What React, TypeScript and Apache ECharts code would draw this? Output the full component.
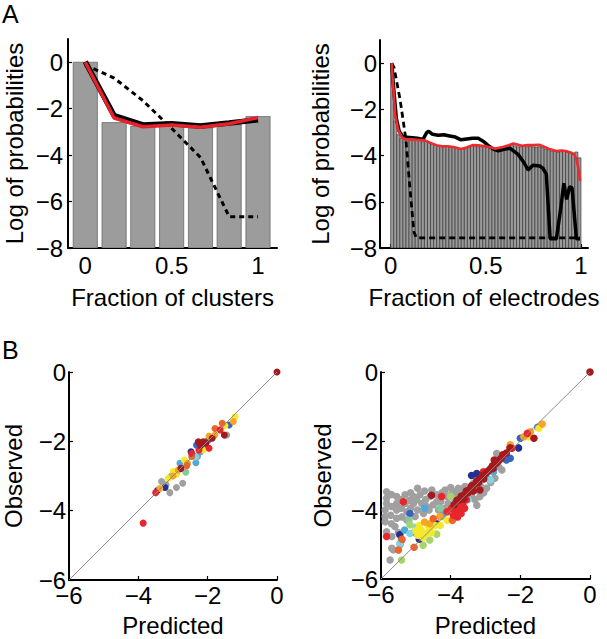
import React, { useEffect, useRef } from "react";
import * as echarts from "echarts";

// ---------- Panel A (left): fraction of clusters ----------
const clusterX = [0, 0.167, 0.333, 0.5, 0.667, 0.833, 1];
const clusterBars = [0, -2.6, -2.76, -2.74, -2.83, -2.69, -2.34];
const clusterBlack = [0.02, -2.3, -2.7, -2.65, -2.75, -2.62, -2.48];
const clusterRed = [0, -2.4, -2.78, -2.7, -2.8, -2.65, -2.38];
const clusterDashed = [-0.12, -0.68, -1.65, -2.85, -4.1, -6.65, -6.65];

// ---------- Panel A (right): fraction of electrodes ----------
const electrodeBars = [
  -0.05, -2.5, -3.1, -3.25, -3.3, -3.3, -3.32, -3.3, -3.35, -3.35,
  -3.4, -3.38, -3.45, -3.5, -3.55, -3.58, -3.6, -3.62, -3.6, -3.63,
  -3.65, -3.68, -3.72, -3.7, -3.65, -3.6, -3.58, -3.6, -3.62, -3.6,
  -3.62, -3.65, -3.68, -3.7, -3.72, -3.7, -3.66, -3.62, -3.58, -3.55,
  -3.58, -3.62, -3.62, -3.6, -3.62, -3.6, -3.62, -3.63, -3.62, -3.66,
  -3.72, -3.75, -3.8, -3.82, -3.85, -3.83, -3.82, -3.85, -3.88, -3.9,
  -3.85, -4.1,
];
const redX = [0.005, 0.015, 0.025, 0.04, 0.06, 0.08, 0.11, 0.14, 0.18, 0.21, 0.24, 0.27, 0.3, 0.33, 0.37, 0.4, 0.43, 0.46, 0.5, 0.55, 0.59, 0.62, 0.645, 0.69, 0.72, 0.75, 0.78, 0.8, 0.83, 0.87, 0.9, 0.92, 0.95, 0.965, 0.978, 0.99, 0.995];
const redY = [0, -1.2, -2.3, -2.9, -3.22, -3.3, -3.3, -3.32, -3.35, -3.45, -3.55, -3.6, -3.6, -3.63, -3.72, -3.65, -3.55, -3.56, -3.6, -3.7, -3.63, -3.55, -3.48, -3.58, -3.55, -3.55, -3.53, -3.6, -3.7, -3.8, -3.78, -3.8, -3.88, -3.95, -4.2, -4.7, -5.1];
const blackX = [0.005, 0.02, 0.03, 0.045, 0.065, 0.1, 0.14, 0.17, 0.19, 0.2, 0.22, 0.25, 0.28, 0.31, 0.34, 0.37, 0.4, 0.43, 0.46, 0.49, 0.51, 0.54, 0.565, 0.6, 0.626, 0.67, 0.7, 0.722, 0.748, 0.783, 0.8, 0.818, 0.838, 0.871, 0.895, 0.91, 0.925, 0.94, 0.953, 0.976, 0.995];
const blackY = [0, -1.5, -2.4, -2.95, -3.2, -3.22, -3.25, -3.3, -3.0, -2.95, -3.08, -3.12, -3.1, -3.15, -3.2, -3.32, -3.28, -3.25, -3.25, -3.4, -3.55, -3.72, -3.8, -3.72, -3.68, -3.95, -4.3, -4.62, -4.42, -4.45, -4.55, -4.8, -7.6, -7.6, -6.2, -5.2, -5.9, -5.35, -5.4, -7.6, -7.6];
const dashX = [0.005, 0.018, 0.05, 0.08, 0.1, 0.122, 0.135, 0.995];
const dashY = [0, -0.2, -1.6, -3.3, -5.3, -7.3, -7.56, -7.56];

// ---------- Panel B (left): predicted vs observed ----------
const leftDarkRed = [[0, 0], [-2.77, -2.78], [-2.27, -2.01], [-2.13, -2.01], [-2.05, -2.05], [-1.87, -1.91], [-1.52, -1.82], [-2.2, -2.12]];
const leftRed = [[-3.86, -4.36], [-3.5, -3.48], [-2.46, -2.35], [-1.96, -2.2], [-1.64, -1.67], [-2.25, -2.25]];
const leftDarkOrange = [[-2.46, -2.44], [-1.79, -1.63], [-1.58, -1.48], [-2.6, -2.7]];
const leftOrange = [[-3.38, -3.36], [-2.85, -2.83], [-2.58, -2.63], [-1.96, -1.85], [-1.79, -1.82], [-1.26, -1.43], [-3.0, -3.0]];
const leftYellow = [[-3.14, -3.07], [-2.99, -2.87], [-2.67, -2.54], [-2.13, -2.25], [-1.21, -1.29], [-1.5, -1.55], [-2.9, -2.95]];
const leftGreen = [[-2.63, -2.89], [-3.05, -3.0]];
const leftCyan = [[-2.35, -2.45]];
const leftLightBlue = [[-2.8, -2.63], [-2.34, -2.62], [-2.2, -2.3]];
const leftBlue = [[-2.32, -2.11], [-1.98, -1.96], [-1.38, -1.53], [-2.1, -2.1]];
const leftDarkBlue = [[-3.23, -3.33], [-3.45, -3.42], [-2.48, -2.3]];
const leftGray = [[-3.33, -3.16], [-3.09, -3.48], [-2.9, -3.33], [-2.72, -3.21], [-2.29, -2.44], [-1.45, -1.82], [-3.2, -3.25]];

// ---------- Panel B (right) ----------
const rightGray = [
  [-5.84, -3.47], [-5.84, -3.66], [-5.84, -3.81], [-5.88, -4.0], [-5.88, -4.19], [-5.88, -4.34], [-5.84, -4.63], [-5.69, -4.77], [-5.69, -5.11], [-5.74, -5.45],
  [-5.55, -3.61], [-5.55, -3.81], [-5.55, -4.0], [-5.55, -4.24], [-5.6, -4.48],
  [-5.31, -3.56], [-5.31, -3.81], [-5.26, -4.05], [-5.26, -4.29],
  [-5.07, -3.61], [-5.07, -3.81], [-5.02, -4.19], [-4.95, -3.37],
  [-4.88, -3.56], [-4.83, -3.81], [-4.78, -4.1], [-4.69, -3.9],
  [-4.59, -3.61], [-4.54, -3.42], [-4.4, -3.56], [-4.4, -3.76], [-4.35, -4.0], [-4.26, -4.19],
  [-4.16, -3.42], [-4.11, -3.61], [-4.07, -3.81], [-3.97, -3.95],
  [-3.92, -3.47], [-3.88, -3.71], [-3.78, -3.37], [-3.73, -3.56],
  [-3.59, -3.32], [-3.49, -3.47], [-3.35, -3.23], [-3.25, -3.42],
  [-5.45, -5.0], [-5.65, -5.15],
  [-3.25, -3.86], [-3.16, -3.61], [-2.97, -3.37], [-2.73, -3.08], [-2.53, -2.84], [-2.58, -2.45], [-2.68, -2.36], [-3.35, -3.32], [-3.3, -3.7], [-2.85, -3.2], [-3.05, -3.5],
  [-5.7, -3.55], [-5.7, -3.9], [-5.72, -4.15], [-5.7, -4.4], [-5.42, -3.7], [-5.42, -3.95], [-5.4, -4.2], [-5.15, -3.5], [-5.18, -3.72], [-5.15, -3.95],
  [-4.98, -3.7], [-4.95, -4.0], [-4.75, -3.45], [-4.72, -3.7], [-4.62, -4.0], [-4.5, -3.85], [-4.25, -3.5], [-4.28, -3.75], [-4.18, -3.95], [-4.0, -3.35],
  [-3.98, -3.55], [-3.85, -3.55], [-3.65, -3.4], [-3.55, -3.55], [-3.4, -3.6], [-3.15, -3.3], [-2.92, -3.1], [-2.78, -2.9], [-2.62, -2.75], [-5.5, -4.65],
];
const rightDarkRed = [
  [0, 0], [-3.9, -3.85], [-3.75, -3.7], [-3.6, -3.55], [-3.45, -3.4], [-3.3, -3.25], [-3.15, -3.1], [-3.0, -2.95], [-2.85, -2.8], [-2.7, -2.65], [-2.55, -2.5], [-2.4, -2.35],
  [-3.5, -3.5], [-3.2, -3.2], [-2.95, -2.9], [-2.6, -2.55], [-4.55, -3.57], [-1.61, -1.92], [-3.7, -3.6], [-3.4, -3.3], [-2.75, -2.55], [-3.16, -3.42], [-2.3, -2.2],
  [-3.82, -3.72], [-3.68, -3.62], [-3.55, -3.45], [-3.38, -3.38], [-3.25, -3.15], [-3.1, -3.0], [-2.9, -2.85], [-2.8, -2.72], [-2.65, -2.6], [-2.5, -2.4], [-3.62, -3.68], [-3.35, -3.45], [-3.05, -3.1], [-2.78, -2.8],
];
const rightRed = [[-4.26, -3.61], [-5.36, -3.76], [-5.84, -4.77], [-3.97, -3.95], [-3.85, -4.05], [-3.92, -4.15], [-3.75, -4.0], [-3.7, -4.1], [-3.8, -4.2], [-3.65, -3.85], [-3.6, -3.95], [-3.06, -2.89], [-1.8, -1.78], [-2.24, -2.21], [-4.1, -4.05], [-3.55, -3.7], [-3.88, -3.92], [-3.72, -3.85]];
const rightDarkOrange = [[-5.5, -5.16], [-5.05, -5.08], [-5.4, -4.85], [-3.95, -4.3], [-2.5, -2.4], [-4.5, -4.25]];
const rightOrange = [[-4.31, -4.19], [-1.37, -1.51], [-1.71, -1.73], [-1.9, -1.88], [-2.29, -2.11], [-4.6, -4.4], [-4.75, -4.35], [-3.3, -3.35]];
const rightYellow = [[-4.85, -4.58], [-4.7, -4.68], [-4.6, -4.53], [-4.94, -4.73], [-4.8, -4.8], [-4.55, -4.65], [-5.0, -4.6], [-4.45, -4.45], [-4.65, -4.45], [-4.9, -4.45], [-1.47, -1.63], [-1.76, -1.88], [-4.1, -4.3], [-4.3, -4.45]];
const rightLightGreen = [[-5.17, -4.43], [-4.6, -4.87], [-4.79, -5.02], [-5.41, -5.45], [-4.0, -3.6], [-4.4, -4.7]];
const rightGreen = [[-4.3, -3.95], [-5.2, -4.3]];
const rightCyan = [[-5.17, -4.68], [-5.46, -4.97], [-5.0, -4.5], [-2.86, -3.13], [-3.5, -3.7]];
const rightLightBlue = [[-5.32, -4.58], [-4.75, -3.95], [-2.77, -2.89], [-5.05, -4.65], [-4.2, -4.1], [-3.0, -3.05]];
const rightBlue = [[-5.17, -4.1], [-2.0, -1.92], [-2.29, -2.5], [-1.5, -1.6], [-4.95, -4.7], [-2.4, -2.55]];
const rightDarkBlue = [[-5.46, -4.72], [-5.41, -4.87], [-3.25, -2.94], [-3.4, -3.0], [-4.4, -4.4], [-4.9, -4.85], [-2.05, -2.2]];
const diagonal = [[-6, -6], [0, 0]];

const topYTicks = [-8, -6, -4, -2, 0];
const topXTicks = [0, 0.5, 1];

const FONT = '"Liberation Sans", Arial, Helvetica, sans-serif';
const FS = 24;
const fmt = (v: number) => (v < 0 ? "\u2212" + String(-v) : String(v));
const zip = (xs: number[], ys: number[]) => xs.map((x, i) => [x, ys[i]]);

const COLORS = {
  darkred: "#a3191d",
  red: "#e8262b",
  darkorange: "#f0622a",
  orange: "#f6a524",
  yellow: "#f6e92b",
  lightgreen: "#a9d46b",
  green: "#82c99c",
  cyan: "#7fd4e4",
  lightblue: "#4ea9dd",
  blue: "#3565c0",
  darkblue: "#22308f",
  gray: "#a0a0a0",
};

function axisBase(extra: any, margin: number, custom?: number[]) {
  const label: any = { color: "#000", fontSize: FS, fontFamily: FONT, margin, formatter: fmt };
  const tick: any = { show: true, inside: true, length: 4, lineStyle: { color: "#000", width: 1.2 } };
  if (custom) {
    label.customValues = custom;
    tick.customValues = custom;
  }
  return {
    type: "value",
    splitLine: { show: false },
    axisLine: { show: true, onZero: false, lineStyle: { color: "#000", width: 2 } },
    axisTick: tick,
    axisLabel: label,
    nameLocation: "middle",
    nameTextStyle: { color: "#000", fontSize: FS, fontFamily: FONT },
    ...extra,
  };
}

function barRenderer(hw: number, fill: string, stroke: string, lw: number) {
  return (params: any, api: any) => {
    const x = api.value(0);
    const y = api.value(1);
    const a = api.coord([x - hw, y]);
    const b = api.coord([x + hw, -8]);
    return {
      type: "rect",
      shape: { x: a[0], y: a[1], width: b[0] - a[0], height: b[1] - a[1] },
      style: { fill, stroke, lineWidth: lw },
    };
  };
}

function scatter(idx: number, data: number[][], color: string, size: number) {
  return {
    type: "scatter",
    xAxisIndex: idx,
    yAxisIndex: idx,
    data,
    symbolSize: size,
    itemStyle: { color, opacity: 1 },
    z: 3,
  };
}

export default function App() {
  const ref = useRef<HTMLDivElement>(null);
  useEffect(() => {
    if (!ref.current) return;
    const chart = echarts.init(ref.current, undefined, { renderer: "svg" });
    const electrodeCenters = electrodeBars.map((_, i) => (i + 0.5) / electrodeBars.length);

    const leftGroups: [number[][], string][] = [
      [leftGray, COLORS.gray], [leftDarkBlue, COLORS.darkblue], [leftBlue, COLORS.blue], [leftLightBlue, COLORS.lightblue],
      [leftCyan, COLORS.cyan], [leftGreen, COLORS.green], [leftYellow, COLORS.yellow], [leftOrange, COLORS.orange],
      [leftDarkOrange, COLORS.darkorange], [leftRed, COLORS.red], [leftDarkRed, COLORS.darkred],
    ];
    const rightGroups: [number[][], string][] = [
      [rightGray, COLORS.gray], [rightDarkBlue, COLORS.darkblue], [rightBlue, COLORS.blue], [rightLightBlue, COLORS.lightblue],
      [rightCyan, COLORS.cyan], [rightGreen, COLORS.green], [rightLightGreen, COLORS.lightgreen], [rightYellow, COLORS.yellow],
      [rightOrange, COLORS.orange], [rightDarkOrange, COLORS.darkorange], [rightRed, COLORS.red], [rightDarkRed, COLORS.darkred],
    ];

    const option: any = {
      animation: false,
      backgroundColor: "#fff",
      graphic: [
        { type: "text", left: 2, top: 1, style: { text: "A", fontSize: 25, fontFamily: FONT, fill: "#000" } },
        { type: "text", left: 2, top: 337, style: { text: "B", fontSize: 25, fontFamily: FONT, fill: "#000" } },
      ],
      grid: [
        { left: 68, top: 39, width: 209, height: 209, outerBoundsMode: "none" },
        { left: 380, top: 40, width: 208, height: 208, outerBoundsMode: "none" },
        { left: 69, top: 372, width: 208, height: 208, outerBoundsMode: "none" },
        { left: 381, top: 372, width: 209, height: 207, outerBoundsMode: "none" },
      ],
      xAxis: [
        axisBase({ gridIndex: 0, min: -0.1, max: 1.11, name: "Fraction of clusters", nameGap: 37 }, 5, topXTicks),
        axisBase({ gridIndex: 1, min: -0.056, max: 1.037, name: "Fraction of electrodes", nameGap: 37 }, 5, topXTicks),
        axisBase({ gridIndex: 2, min: -6, max: 0, interval: 2, name: "Predicted", nameGap: 33 }, 3),
        axisBase({ gridIndex: 3, min: -6, max: 0, interval: 2, name: "Predicted", nameGap: 34 }, 3),
      ],
      yAxis: [
        axisBase({ gridIndex: 0, min: -8, max: 1, name: "Log of probabilities", nameGap: 42 }, 5, topYTicks),
        axisBase({ gridIndex: 1, min: -8, max: 1, name: "Log of probabilities", nameGap: 48 }, 3, topYTicks),
        axisBase({ gridIndex: 2, min: -6, max: 0, interval: 2, name: "Observed", nameGap: 44 }, 3),
        axisBase({ gridIndex: 3, min: -6, max: 0, interval: 2, name: "Observed", nameGap: 47 }, 3),
      ],
      series: [
        // Panel A left
        {
          type: "custom", xAxisIndex: 0, yAxisIndex: 0, clip: true,
          data: zip(clusterX, clusterBars), encode: { x: 0, y: 1 },
          renderItem: barRenderer(0.07, "#9c9c9c", "#6a6a6a", 0.8), z: 1,
        },
        {
          type: "line", xAxisIndex: 0, yAxisIndex: 0, data: zip(clusterX, clusterDashed), symbol: "none",
          lineStyle: { color: "#000", width: 3, type: [5, 4] }, z: 2,
        },
        {
          type: "line", xAxisIndex: 0, yAxisIndex: 0, data: zip(clusterX, clusterBlack), symbol: "none",
          lineStyle: { color: "#000", width: 5.5 }, z: 3,
        },
        {
          type: "line", xAxisIndex: 0, yAxisIndex: 0, data: zip(clusterX, clusterRed), symbol: "none",
          lineStyle: { color: "#e8202a", width: 3.5 }, z: 4,
        },
        // Panel A right
        {
          type: "custom", xAxisIndex: 1, yAxisIndex: 1, clip: true,
          data: zip(electrodeCenters, electrodeBars), encode: { x: 0, y: 1 },
          renderItem: barRenderer(0.5 / electrodeBars.length, "#9a9a9a", "#3a3a3a", 0.7), z: 1,
        },
        {
          type: "line", xAxisIndex: 1, yAxisIndex: 1, data: zip(dashX, dashY), symbol: "none",
          lineStyle: { color: "#000", width: 2.8, type: [6, 4] }, z: 2,
        },
        {
          type: "line", xAxisIndex: 1, yAxisIndex: 1, data: zip(blackX, blackY), symbol: "none",
          lineStyle: { color: "#000", width: 3.5 }, z: 3,
        },
        {
          type: "line", xAxisIndex: 1, yAxisIndex: 1, data: zip(redX, redY), symbol: "none",
          lineStyle: { color: "#ee2a2e", width: 2.6 }, z: 4,
        },
        // Panel B left
        ...leftGroups.map(([d, c]) => scatter(2, d, c, 7)),
        {
          type: "line", xAxisIndex: 2, yAxisIndex: 2, data: diagonal, symbol: "none",
          lineStyle: { color: "#8a8a8a", width: 1 }, z: 5,
        },
        // Panel B right
        ...rightGroups.map(([d, c]) => scatter(3, d, c, 7.5)),
        {
          type: "line", xAxisIndex: 3, yAxisIndex: 3, data: diagonal, symbol: "none",
          lineStyle: { color: "#8a8a8a", width: 1 }, z: 5,
        },
      ],
    };
    chart.setOption(option);
    return () => chart.dispose();
  }, []);
  return (
    <div
      ref={ref}
      style={{ position: "absolute", left: 0, top: 0, width: 607, height: 639, background: "#fff" }}
    />
  );
}
